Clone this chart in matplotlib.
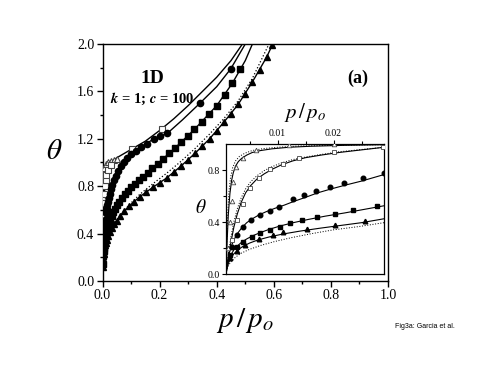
import matplotlib
matplotlib.use("Agg")
import matplotlib.pyplot as plt
from matplotlib.ticker import MultipleLocator, FixedLocator

plt.rcParams['font.family'] = ['Liberation Serif', 'DejaVu Serif']
plt.rcParams['mathtext.fontset'] = 'stix'

# ---------------- data ----------------
# open triangles (markers) and their solid line
tri_o_p = [0.0012, 0.0015, 0.0018, 0.0021, 0.0026, 0.0039, 0.0062, 0.012, 0.02, 0.03, 0.04, 0.05]
tri_o_t = [0.2, 0.4, 0.56, 0.71, 0.825, 0.89, 0.954, 0.99, 1.0, 1.01, 1.02, 1.03]
line_o_p = [0.0008, 0.001, 0.0012, 0.0015, 0.0018, 0.0021, 0.0025, 0.003, 0.0036, 0.0045, 0.0055, 0.007, 0.009,
            0.012, 0.016, 0.022, 0.029, 0.05, 0.1, 0.15, 0.2, 0.25, 0.3, 0.35, 0.4, 0.45, 0.49]
line_o_t = [0.0, 0.25, 0.45, 0.62, 0.72, 0.78, 0.83, 0.865, 0.89, 0.915, 0.935, 0.95, 0.963,
            0.975, 0.983, 0.99, 0.995, 1.04, 1.11, 1.18, 1.27, 1.37, 1.48, 1.6, 1.72, 1.86, 2.0]
# open squares
sq_o_p = [0.0018, 0.0027, 0.0038, 0.0051, 0.0067, 0.0086, 0.011, 0.0139, 0.020, 0.0289, 0.104, 0.207]
sq_o_t = [0.26, 0.415, 0.54, 0.66, 0.736, 0.805, 0.85, 0.895, 0.94, 0.98, 1.11, 1.28]
line_so_p = [0.0008, 0.001, 0.0013, 0.0017, 0.0022, 0.0028, 0.0035, 0.0043, 0.0052, 0.0063, 0.0076, 0.009,
             0.0107, 0.0127, 0.015, 0.0178, 0.021, 0.025, 0.029]
line_so_t = [0.0, 0.06, 0.15, 0.25, 0.36, 0.46, 0.55, 0.625, 0.68, 0.73, 0.77, 0.805,
             0.84, 0.87, 0.895, 0.915, 0.935, 0.955, 0.975]
# filled circles
ci_p = [0.0018, 0.0027, 0.0039, 0.0053, 0.0069, 0.0086, 0.0103, 0.0128, 0.0148, 0.0169, 0.0194, 0.0219, 0.0253,
        0.029, 0.034, 0.04, 0.047, 0.055, 0.064, 0.074, 0.086, 0.1, 0.116, 0.134, 0.155, 0.18, 0.2, 0.227,
        0.341, 0.449]
ci_t = [0.21, 0.30, 0.364, 0.415, 0.454, 0.485, 0.518, 0.575, 0.607, 0.64, 0.67, 0.70, 0.736,
        0.775, 0.81, 0.85, 0.89, 0.93, 0.97, 1.0, 1.04, 1.07, 1.1, 1.13, 1.16, 1.2, 1.22, 1.246,
        1.50, 1.79]
line_ci_p = [0.0008, 0.001, 0.0013, 0.0018, 0.0023, 0.0029, 0.0036, 0.0045, 0.0055, 0.0067, 0.008, 0.0095,
             0.0112, 0.013, 0.015, 0.0172, 0.0196, 0.0222, 0.025, 0.029, 0.04, 0.055, 0.074, 0.1, 0.134, 0.18,
             0.227, 0.28, 0.341, 0.4, 0.449, 0.5]
line_ci_t = [0.0, 0.08, 0.15, 0.22, 0.27, 0.315, 0.355, 0.395, 0.425, 0.455, 0.48, 0.505,
             0.53, 0.56, 0.59, 0.625, 0.655, 0.685, 0.715, 0.765, 0.85, 0.93, 1.0, 1.07, 1.13, 1.2,
             1.246, 1.36, 1.50, 1.64, 1.79, 2.0]
# filled squares
sq_p = [0.0015, 0.0027, 0.0039, 0.0054, 0.0069, 0.0087, 0.0104, 0.0122, 0.0143, 0.017, 0.0203, 0.0235, 0.0277,
        0.032, 0.037, 0.043, 0.05, 0.058, 0.067, 0.077, 0.088, 0.1, 0.113, 0.127, 0.142, 0.158, 0.175, 0.193,
        0.212, 0.232, 0.253, 0.275, 0.298, 0.322, 0.347, 0.373, 0.4, 0.428, 0.455, 0.482]
sq_t = [0.146, 0.21, 0.249, 0.282, 0.313, 0.338, 0.364, 0.39, 0.415, 0.436, 0.46, 0.49, 0.523,
        0.55, 0.58, 0.61, 0.64, 0.67, 0.7, 0.73, 0.76, 0.79, 0.82, 0.85, 0.88, 0.91, 0.95, 0.99,
        1.03, 1.08, 1.12, 1.17, 1.22, 1.28, 1.34, 1.41, 1.48, 1.57, 1.67, 1.79]
line_sq_p = [0.0008, 0.001, 0.0013, 0.0017, 0.0022, 0.0028, 0.0036, 0.0045, 0.0056, 0.007, 0.0086, 0.0105,
             0.0128, 0.0155, 0.0185, 0.022, 0.029, 0.043, 0.067, 0.1, 0.142,
             0.193, 0.253, 0.322, 0.4, 0.455, 0.5, 0.525]
line_sq_t = [0.0, 0.06, 0.11, 0.15, 0.185, 0.215, 0.245, 0.27, 0.295, 0.32, 0.345, 0.37,
             0.395, 0.42, 0.445, 0.47, 0.525, 0.61, 0.7, 0.79, 0.88,
             0.99, 1.12, 1.28, 1.48, 1.67, 1.86, 2.0]
# filled triangles
tr_p = [0.0015, 0.0028, 0.0042, 0.0066, 0.0091, 0.011, 0.0152, 0.0203, 0.0256,
        0.032, 0.04, 0.05, 0.062, 0.076, 0.092, 0.11, 0.13, 0.152, 0.176, 0.2, 0.225, 0.25, 0.275, 0.3,
        0.325, 0.35, 0.375, 0.4, 0.425, 0.45, 0.475, 0.5, 0.525, 0.55, 0.575, 0.593]
tr_t = [0.12, 0.18, 0.225, 0.27, 0.30, 0.32, 0.35, 0.38, 0.41,
        0.45, 0.48, 0.51, 0.55, 0.59, 0.63, 0.67, 0.71, 0.75, 0.79, 0.83, 0.87, 0.92, 0.97, 1.02,
        1.08, 1.14, 1.2, 1.27, 1.34, 1.41, 1.49, 1.58, 1.68, 1.78, 1.89, 1.99]
line_tr_p = [0.0008, 0.001, 0.0013, 0.0017, 0.0022, 0.0029, 0.0038, 0.005, 0.0065, 0.0085, 0.011, 0.014,
             0.0175, 0.0215, 0.025, 0.029, 0.04, 0.062, 0.092, 0.13, 0.176, 0.225,
             0.275, 0.325, 0.375, 0.425, 0.475, 0.525, 0.575, 0.6]
line_tr_t = [0.0, 0.05, 0.09, 0.125, 0.155, 0.185, 0.212, 0.238, 0.262, 0.285, 0.308, 0.33,
             0.352, 0.375, 0.395, 0.425, 0.48, 0.55, 0.63, 0.71, 0.79, 0.87,
             0.97, 1.08, 1.2, 1.34, 1.49, 1.68, 1.89, 2.02]
# dotted lines
dot_tr_p = [0.0008, 0.001, 0.0013, 0.0018, 0.0025, 0.0035, 0.005, 0.007, 0.0095, 0.0125, 0.016, 0.02, 0.0245,
            0.029, 0.04, 0.062, 0.092, 0.13, 0.176, 0.225, 0.275, 0.325, 0.375, 0.425, 0.475, 0.525, 0.583]
dot_tr_t = [0.0, 0.04, 0.07, 0.1, 0.13, 0.16, 0.19, 0.22, 0.25, 0.28, 0.31, 0.34, 0.365,
            0.395, 0.46, 0.55, 0.64, 0.73, 0.82, 0.91, 1.01, 1.12, 1.24, 1.37, 1.52, 1.71, 2.0]
dot_o_p = [0.0008, 0.0009, 0.0011, 0.0013, 0.0016, 0.002, 0.0025, 0.0032, 0.0042, 0.0055, 0.0075, 0.01, 0.014,
           0.02, 0.029]
dot_o_t = [0.0, 0.2, 0.45, 0.62, 0.74, 0.82, 0.87, 0.905, 0.93, 0.95, 0.965, 0.975, 0.985, 0.99, 0.995]
dot_so_p = [0.0008, 0.001, 0.0013, 0.0017, 0.0022, 0.0028, 0.0035, 0.0043, 0.0052, 0.0063, 0.0076, 0.009,
            0.0107, 0.0127, 0.015, 0.0178, 0.021, 0.025, 0.029]
dot_so_t = [0.0, 0.08, 0.18, 0.29, 0.4, 0.5, 0.585, 0.655, 0.71, 0.755, 0.795, 0.825,
            0.855, 0.88, 0.9, 0.92, 0.94, 0.958, 0.975]

main_xticks = [0.0, 0.2, 0.4, 0.6, 0.8, 1.0]
main_yticks = [0.0, 0.4, 0.8, 1.2, 1.6, 2.0]
ins_xticks = [0.01, 0.02]
ins_yticks = [0.0, 0.4, 0.8]

W, H = 491, 379
fig = plt.figure(figsize=(W / 100, H / 100), dpi=100)
fig.patch.set_facecolor('white')

ax = fig.add_axes([0.2088, 0.2586, 0.5815, 0.6253])
axi = fig.add_axes([0.4603, 0.277, 0.3218, 0.343])


def draw(a, ms, lwl, mew):
    for lp, lt in [(line_o_p, line_o_t), (line_so_p, line_so_t), (line_ci_p, line_ci_t),
                   (line_sq_p, line_sq_t), (line_tr_p, line_tr_t)]:
        a.plot(lp, lt, '-', color='black', lw=lwl, zorder=3)
    for lp, lt in [(dot_tr_p, dot_tr_t), (dot_o_p, dot_o_t), (dot_so_p, dot_so_t)]:
        a.plot(lp, lt, ':', color='black', lw=lwl * 0.9, zorder=3)
    a.plot(tri_o_p, tri_o_t, '^', ms=ms, mfc='white', mec='#444444', mew=mew, ls='none', zorder=4)
    a.plot(sq_o_p, sq_o_t, 's', ms=ms * 0.85, mfc='white', mec='#444444', mew=mew, ls='none', zorder=4)
    a.plot(ci_p, ci_t, 'o', ms=ms, color='black', ls='none', zorder=4)
    a.plot(sq_p, sq_t, 's', ms=ms * 0.85, color='black', ls='none', zorder=4)
    a.plot(tr_p, tr_t, '^', ms=ms, color='black', ls='none', zorder=4)


draw(ax, 4.5, 1.0, 0.8)
ax.set_xlim(0.0, 1.0)
ax.set_ylim(0.0, 2.0)
ax.set_xticks(main_xticks)
ax.set_yticks(main_yticks)
ax.set_xticklabels([f"{v:.1f}" for v in main_xticks])
ax.set_yticklabels([f"{v:.1f}" for v in main_yticks])
ax.xaxis.set_minor_locator(MultipleLocator(0.1))
ax.yaxis.set_minor_locator(MultipleLocator(0.2))
ax.tick_params(which='major', direction='out', length=4, width=1, labelsize=10, pad=2)
ax.tick_params(which='minor', direction='out', length=2.5, width=1)
for s in ax.spines.values():
    s.set_linewidth(1.0)
ax.set_xlabel(r'$p\,/\,p_o$', fontsize=21, labelpad=3)
ax.set_ylabel(r'$\theta$', fontsize=21, rotation=0)
ax.yaxis.set_label_coords(-0.17, 0.49)
ax.text(0.175, 0.855, '1D', transform=ax.transAxes, fontsize=14, fontweight='bold', ha='center', va='center')
ax.text(0.175, 0.77, r'$\boldsymbol{k}$ = 1; $\boldsymbol{c}$ = 100', transform=ax.transAxes, fontsize=10.5,
        fontweight='bold', ha='center', va='center')
ax.text(0.895, 0.855, '(a)', transform=ax.transAxes, fontsize=13, fontweight='bold', ha='center', va='center')

draw(axi, 3.3, 0.8, 0.6)
axi.set_xlim(0.0008, 0.029)
axi.set_ylim(0.0, 1.0)
axi.xaxis.tick_top()
axi.xaxis.set_label_position('top')
axi.set_xticks(ins_xticks)
axi.set_xticklabels([f"{v:.2f}" for v in ins_xticks])
axi.set_yticks(ins_yticks)
axi.set_yticklabels([f"{v:.1f}" for v in ins_yticks])
axi.xaxis.set_minor_locator(FixedLocator([0.005, 0.015, 0.025]))
axi.yaxis.set_minor_locator(FixedLocator([0.2, 0.6]))
axi.tick_params(which='major', direction='out', length=3, width=0.8, labelsize=7, pad=1.5)
axi.tick_params(which='minor', direction='out', length=2, width=0.8)
for s in axi.spines.values():
    s.set_linewidth(0.9)
axi.set_xlabel(r'$p\,/\,p_o$', fontsize=15, labelpad=8)
axi.set_ylabel(r'$\theta$', fontsize=14, rotation=0)
axi.yaxis.set_label_coords(-0.16, 0.44)

fig.text(395 / W, 1 - 326 / H, 'Fig3a: Garcia et al.', fontsize=5, family='Liberation Sans',
         ha='left', va='center')

fig.savefig('out.png', dpi=100, facecolor='white')
